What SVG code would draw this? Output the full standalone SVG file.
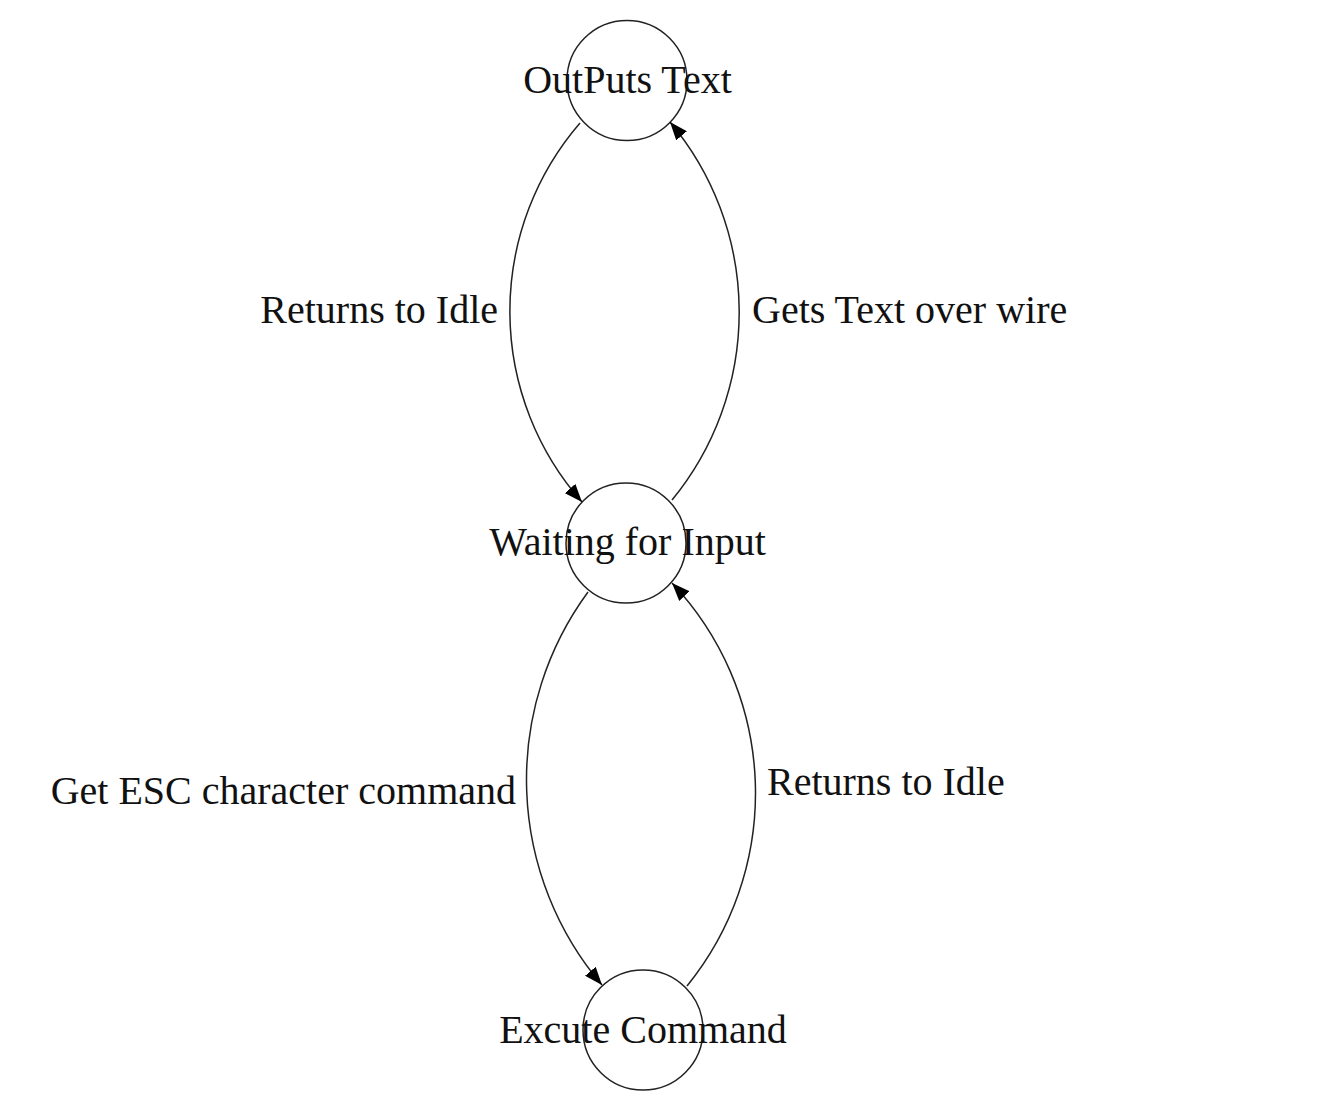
<svg xmlns="http://www.w3.org/2000/svg" width="1342" height="1110" viewBox="0 0 1342 1110">
<style>
  .node circle { fill: #ffffff; stroke: #222222; stroke-width: 1.5; }
  text { font-family: "Liberation Serif", "Times New Roman", serif; font-size: 40px; fill: #111111; }
  .node text { text-anchor: middle; }
  .link { fill: none; stroke: #222222; stroke-width: 1.5; marker-end: url(#arrow); }
  .lbl-l { text-anchor: end; }
  .lbl-r { text-anchor: start; }
</style>
<defs>
  <marker id="arrow" markerUnits="userSpaceOnUse" viewBox="0 -7 18 14" refX="18" refY="0" markerWidth="18" markerHeight="14" orient="auto">
    <path d="M0,-7L18,0L0,7Z" fill="#000000"/>
  </marker>
</defs>
<rect width="1342" height="1110" fill="#ffffff"/>
<g id="nodes">
  <g id="node-outputs" class="node">
    <circle cx="627" cy="80.5" r="60"/>
    <text x="627.5" y="93">OutPuts Text</text>
  </g>
  <g id="node-waiting" class="node">
    <circle cx="626" cy="543" r="60"/>
    <text x="627.5" y="555">Waiting for Input</text>
  </g>
  <g id="node-execute" class="node">
    <circle cx="643" cy="1030" r="60"/>
    <text x="643" y="1043">Excute Command</text>
  </g>
</g>
<g id="connectors">
  <path class="link" d="M580,123 A288,288 0 0 0 582,502"/>
  <path class="link" d="M672,500 A296,296 0 0 0 670,122"/>
  <path class="link" d="M588,592 A317,317 0 0 0 602,985"/>
  <path class="link" d="M687,986 A306,306 0 0 0 672,583"/>
  <text class="lbl-l" x="498" y="323">Returns to Idle</text>
  <text class="lbl-r" x="752" y="323">Gets Text over wire</text>
  <text class="lbl-l" x="516" y="804">Get ESC character command</text>
  <text class="lbl-r" x="767" y="795">Returns to Idle</text>
</g>
</svg>
